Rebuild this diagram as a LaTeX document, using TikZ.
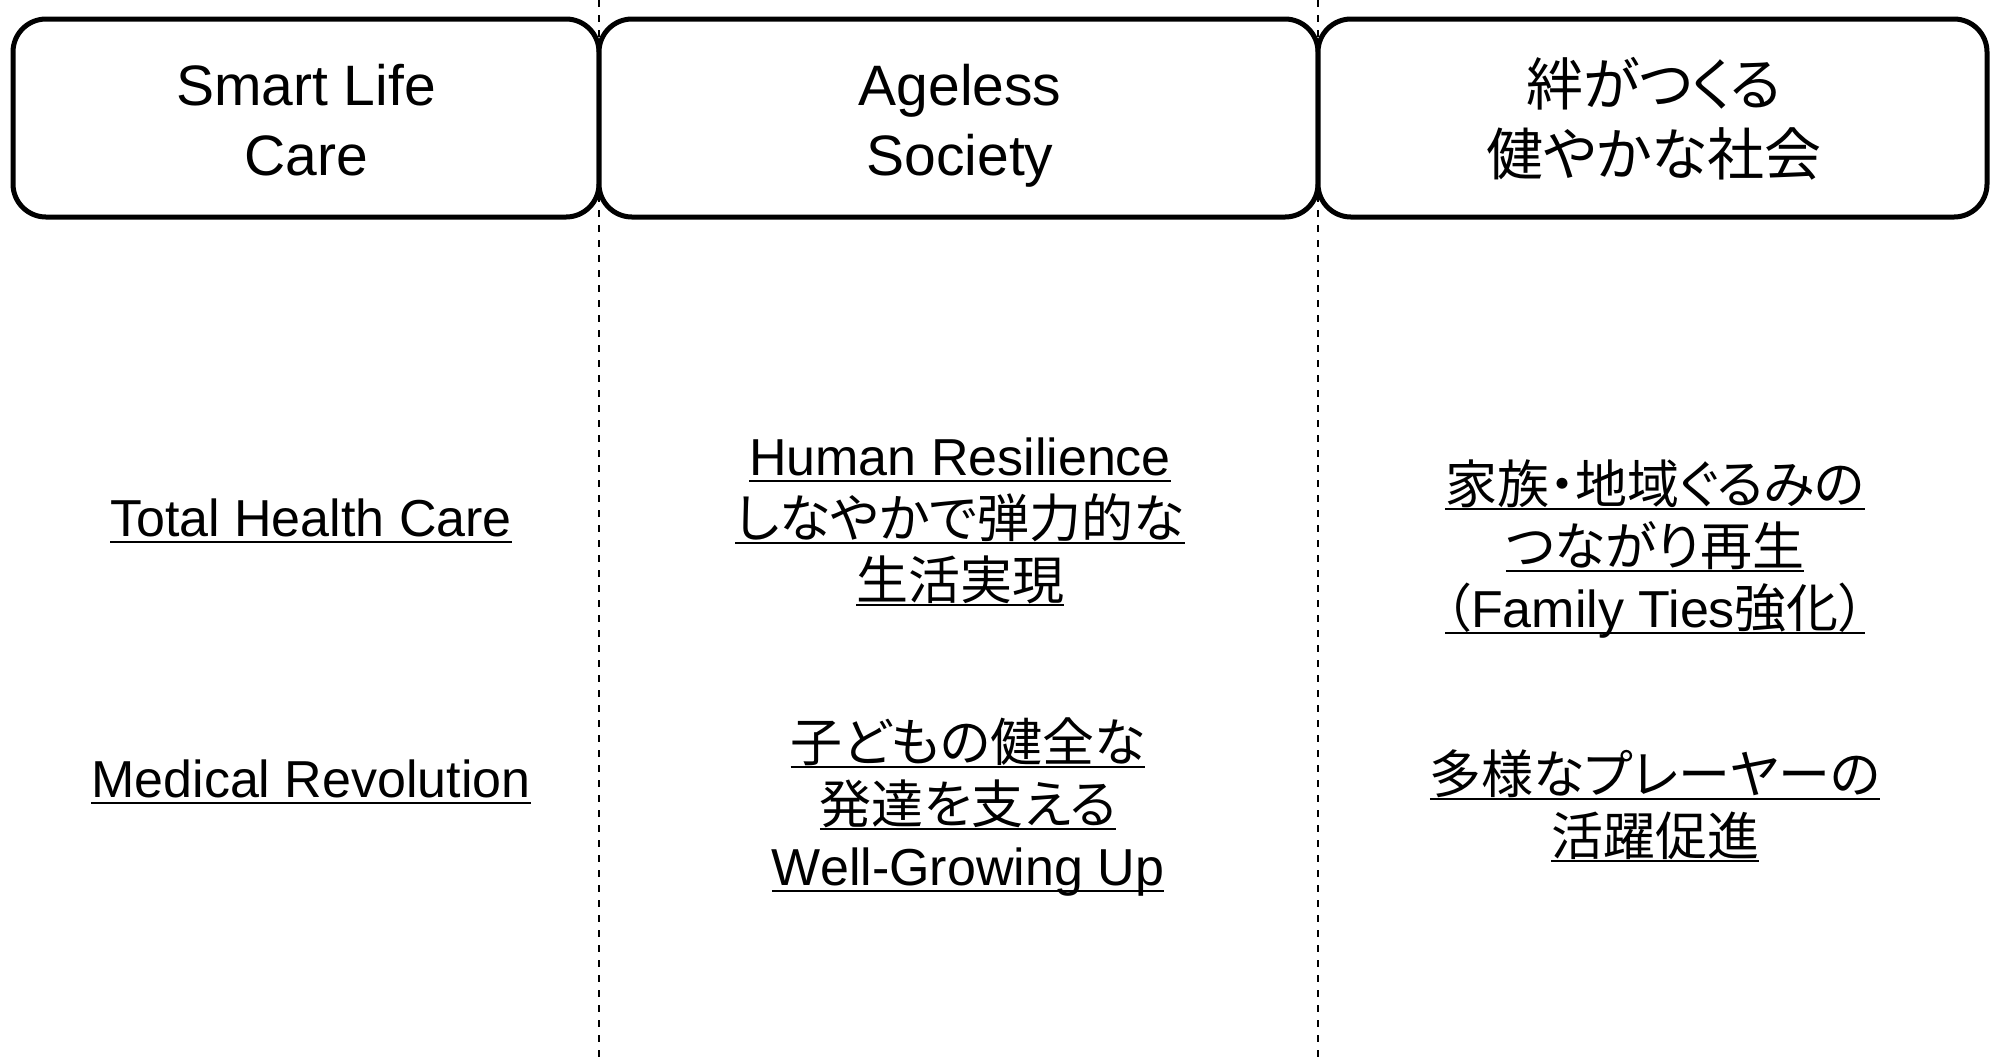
\documentclass[tikz,border=0pt]{standalone}
\usepackage{fontspec}
\setmainfont{Liberation Sans}
\newfontfamily\jp[RawFeature=+palt]{Noto Sans CJK JP}
\newcommand\ulin[1]{\setbox0\hbox{#1}\rlap{\rule[-3.6pt]{\wd0}{1.2pt}}\box0}
\tikzset{
  hdrbox/.style={draw, line width=2.5pt, rounded corners=16.5pt, fill=white, minimum height=99pt, inner sep=0pt},
  hdrtxt/.style={anchor=base, inner sep=0pt, font=\fontsize{28.5}{34}\selectfont},
  bodytxt/.style={anchor=base, inner sep=0pt, font=\fontsize{26}{31}\selectfont},
  sepline/.style={line width=0.8pt, dash pattern=on 3.3pt off 4.2pt}
}
\begin{document}
\begin{tikzpicture}[x=0.5pt,y=-0.5pt]
\useasboundingbox (0,0) rectangle (1997,1062);
% separators
\coordinate (d1t) at (599,0); \coordinate (d1b) at (599,1062);
\coordinate (d2t) at (1318,0); \coordinate (d2b) at (1318,1062);
\draw[sepline] (d1t) -- (d1b);
\draw[sepline] (d2t) -- (d2b);
% header boxes
\node[hdrbox, minimum width=293pt] (b1) at (306,118) {};
\node[hdrbox, minimum width=359.5pt] (b2) at (958.5,118) {};
\node[hdrbox, minimum width=334.5pt] (b3) at (1652.5,118) {};
\node[hdrtxt] (h1a) at (306,105) {Smart Life};
\node[hdrtxt] (h1b) at (306,175) {Care};
\node[hdrtxt] (h2a) at (960,105) {Ageless};
\node[hdrtxt] (h2b) at (960,175) {Society};
\node[hdrtxt] (h3a) at (1654,105) {\jp 絆がつくる};
\node[hdrtxt] (h3b) at (1654,175) {\jp 健やかな社会};
% column 1
\node[bodytxt] (c1a) at (311,536) {\ulin{Total Health Care}};
\node[bodytxt] (c1b) at (311,797) {\ulin{Medical Revolution}};
% column 2
\node[bodytxt] (c2a) at (960,475) {\ulin{Human Resilience}};
\node[bodytxt] (c2b) at (960,537) {\ulin{\jp しなやかで弾力的な}};
\node[bodytxt] (c2c) at (960,599) {\ulin{\jp 生活実現}};
\node[bodytxt] (c2d) at (968,761) {\ulin{\jp 子どもの健全な}};
\node[bodytxt] (c2e) at (968,823) {\ulin{\jp 発達を支える}};
\node[bodytxt] (c2f) at (968,885) {\ulin{Well-Growing Up}};
% column 3
\node[bodytxt] (c3a) at (1655,503) {\ulin{\jp 家族・地域ぐるみの}};
\node[bodytxt] (c3b) at (1655,565) {\ulin{\jp つながり再生}};
\node[bodytxt] (c3c) at (1655,627) {\ulin{{\jp （}Family Ties{\jp 強化）}}};
\node[bodytxt] (c3d) at (1655,793) {\ulin{\jp 多様なプレーヤーの}};
\node[bodytxt] (c3e) at (1655,855) {\ulin{\jp 活躍促進}};
\end{tikzpicture}
\end{document}
